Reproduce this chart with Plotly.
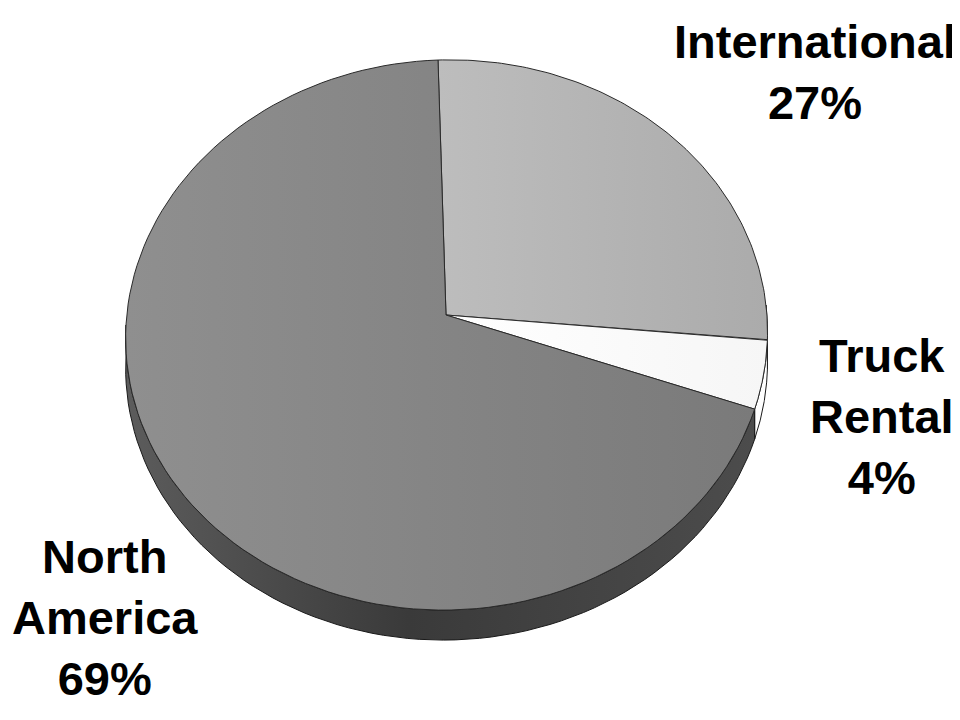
import numpy as np
import plotly.graph_objects as go

# Revenue split (clockwise from 12 o'clock)
labels = ["International", "Truck Rental", "North America"]
values = [27, 4, 69]
label_text = ["International", "Truck<br>Rental", "North<br>America"]

top_colors = [
    [[0, "#bdbdbd"], [1, "#ababab"]],
    [[0, "#ffffff"], [1, "#f6f6f6"]],
    [[0, "#8f8f8f"], [1, "#7a7a7a"]],
]
side_colors = [
    [[0, "#8a8a8a"], [1, "#7a7a7a"]],
    [[0, "#ffffff"], [1, "#ffffff"]],
    [[0, "#5c5c5c"], [0.45, "#3a3a3a"], [1, "#4c4c4c"]],
]

# fake-3D geometry, in pixel units of the 960x720 window
CX, CY = 446, 315
A, B = 320, 273.5      # horizontal / vertical radius of the top face
K = 0.0727             # perspective squeeze (far edge smaller)
TILT, SKEW = 10, 8
DEPTH = 30
PAGE_PAD = 8           # default body margin of the html page


def rim(theta_deg, drop=0.0):
    t = np.radians(theta_deg)
    s, c = np.sin(t), np.cos(t)
    w = 1 + K * c
    x = CX + A * s / w - SKEW * c
    y = CY - B * c / w - TILT * s + drop
    return x, y


fig = go.Figure()

total = sum(values)
bounds = np.cumsum([0] + values) / total * 360
slices = list(zip(bounds[:-1], bounds[1:]))

# visible side wall: front half of the rim, extruded downwards
for (t0, t1), cs in zip(slices, side_colors):
    lo, hi = max(t0, 90), min(t1, 270)
    if hi <= lo:
        continue
    th = np.linspace(lo, hi, 80)
    xt, yt = rim(th)
    xb, yb = rim(th[::-1], DEPTH)
    fig.add_trace(go.Scatter(
        x=np.r_[xt, xb, xt[:1]], y=np.r_[yt, yb, yt[:1]],
        mode="lines", fill="toself", fillgradient=dict(type="horizontal", colorscale=cs),
        line=dict(color="#1a1a1a", width=1), hoverinfo="skip",
    ))

# top face wedges
for (t0, t1), cs, name, v in zip(slices, top_colors, labels, values):
    th = np.linspace(t0, t1, 120)
    xa, ya = rim(th)
    fig.add_trace(go.Scatter(
        x=np.r_[CX, xa, CX], y=np.r_[CY, ya, CY],
        mode="lines", fill="toself", fillgradient=dict(type="horizontal", colorscale=cs),
        line=dict(color="#2a2a2a", width=1),
        hoveron="fills", text=f"{name}: {v}%", hoverinfo="text",
    ))

# labels
label_pos = [(815, 72), (882, 416), (105, 617)]
for txt, v, (lx, ly) in zip(label_text, values, label_pos):
    fig.add_annotation(
        x=lx, y=ly, xref="x", yref="y", text=f"<b>{txt}<br>{v}%</b>",
        showarrow=False, xanchor="center", yanchor="middle", align="center",
        font=dict(family="Liberation Sans, Arial, sans-serif", size=47, color="#000000"),
    )

fig.update_xaxes(range=[PAGE_PAD, 960], visible=False, fixedrange=True)
fig.update_yaxes(range=[720, PAGE_PAD], visible=False, fixedrange=True)
fig.update_layout(
    width=960 - PAGE_PAD, height=720 - PAGE_PAD,
    margin=dict(l=0, r=0, t=0, b=0),
    paper_bgcolor="white", plot_bgcolor="white",
    showlegend=False,
)
fig.write_html("out.html")
